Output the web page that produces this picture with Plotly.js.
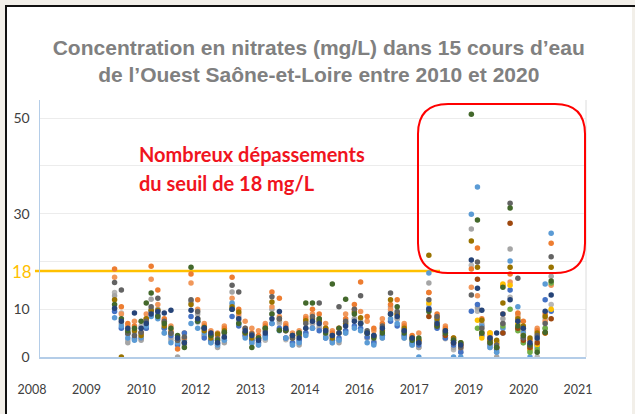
<!DOCTYPE html>
<html><head><meta charset="utf-8">
<script src="https://cdn.plot.ly/plotly-3.0.1.min.js"></script>
<style>
html,body{margin:0;padding:0;background:#f2efe9;width:635px;height:414px;overflow:hidden;}
#panel{position:absolute;left:5px;top:5px;width:627px;height:409px;background:#fff;border-left:2px solid #111;border-top:2px solid #111;box-sizing:border-box;}
#topline{position:absolute;left:5px;top:5px;width:630px;height:2px;background:#111;}
#chart{position:absolute;left:0;top:0;width:635px;height:414px;}
</style></head><body>
<div id="panel"></div><div id="topline"></div><div id="chart"></div>
<script>
// ---- DATA ----
const sampleDates = [
 '2009-12-15','2010-02-15','2010-04-15','2010-06-15','2010-08-15','2010-10-01','2010-11-15','2011-01-15',
 '2011-03-15','2011-05-15','2011-07-15','2011-09-15','2011-11-15','2012-01-15','2012-03-15','2012-05-15',
 '2012-07-15','2012-09-15','2012-11-25','2013-01-25','2013-03-25','2013-05-25','2013-07-25','2013-09-25',
 '2013-11-25','2014-02-01','2014-04-01','2014-06-01','2014-08-01','2014-10-01','2014-12-01','2015-02-01',
 '2015-04-01','2015-06-01','2015-08-01','2015-10-01','2015-12-20','2016-02-15','2016-04-15','2016-06-15',
 '2016-09-01','2016-11-15','2017-01-15','2017-03-20','2017-06-01','2017-08-01','2017-11-01','2018-01-15',
 '2018-04-01','2018-06-15','2018-08-20','2018-11-25','2019-01-20','2019-03-01','2019-05-15','2019-07-15',
 '2019-09-10','2019-11-15','2020-01-25','2020-03-15','2020-05-15','2020-07-20','2020-10-01','2020-11-25'];

const riverA = [18.4,10.5,7,6.5,5,8,19,14, 8,5.5,1.7,4,17.4,12,6.5,5, 4.5,6,16.7,10,6,5,4.5,6.5, 13.6,12.3,6.5,4.5,5,8,10,9,
 6,5,6,8,11,15.7,8.5,6, 7,11,12,6.5,4.5,3.5,13.5,9, 6,4,2,18.4,22.8,8,5,3, 15,17.4,9.2,7.5,3.5,5.5,9,23.8];
const riverB = [8.2,6.5,4,3.5,4,6.5,8.5,8, 5,3,3,3.5,7,6,5,3, 2.5,3.5,11.3,7,4,3,2.5,4, 7,5.5,4,2.5,3,4.5,6,7.6,
 4,3,3.5,5,6,5.5,3,2.5, 4,8,7,4,2.5,0,17.6,7.5, 4.5,0,0,29.9,35.6,6.5,2,1, 6,20.1,10.5,5,0,2,15.3,25.9];
const riverC = [10.2,7.5,6,9.2,6,7,9,9.5, 9.2,9.8,4,3,9.8,8,6,5, 3,4.2,10,8,5.5,4.5,3.5,5, 8,9.5,6,4.5,4,6,7.5,7,
 5.5,4.5,5,6.5,7.5,7,5,4.5, 6,9,8.5,5.5,4,3,10,7, 5.5,3,2.5,20.3,14.4,9.8,4,5, 9,12,7.5,6,3,4,9.6,13];
const riverD = [11,8,5.5,6,7.5,11.3,13.4,8.5, 7,6,4.5,2,18.8,7.5,6.2,4.5, 3.5,5.2,10,7,5.2,2,4,6, 9,5.6,5.6,4.5,5,11.3,11.3,8,
 5,15.3,6,12.1,9,7,5,4, 5,9,10.5,5,3.5,4,9.5,6.5, 5,3.5,3,50.8,28.7,5,3,2, 14.6,31.2,6.5,4.5,2.5,1,5.2,15.9];
const riverE = [12.8,7,3,4,3.5,6,12.1,10, 6,4,0,2.5,11.5,9,4.5,3.2, 2,3,13.6,8.5,4.5,3.5,3,4.2, 10,7.5,4,3,2.5,5,7,6,
 4.5,3.5,3,5,8,7.5,4,3.3, 4,10.5,8,4,2.5,2,15.5,7.5, 4,2,1.5,26.8,10.3,7,3.5,0, 8,22.6,9,5.5,2,3.5,6,16.9];
const riverF = [15.6,14,5,4.5,5.2,7.5,10.5,12.3, 7.5,5,3.5,4.2,12,9.5,6,4.5, 3.8,5,15,13.6,6,4.8,4,5.5, 12.6,8,5.5,4,5,7,8.5,11.3,
 5.5,4.5,10.5,7.5,10,12.8,5.5,4.5, 6.5,13.4,9.5,5.5,3.8,3,12,8.5, 5,3.5,2,13,19.9,6,4,2.5, 7,32.2,16.5,4,2.5,4.5,7,21];
const riverG = [12,0,5,5.5,4.5,8,9.8,9.8, 6.5,5,3.5,3,11,8,5.5,4, 4.8,5.5,10.5,9.4,5,4,3.8,6, 11.5,8,5.5,4,4.5,7.6,8,7.5,
 6,4,5,7,9.4,8.2,5,4.3, 5.5,12,9,6,4,3.5,21.3,8, 5.5,4,3,24.3,18.8,7.7,3.5,3.5, 11.3,18.8,8,6.5,4,5,8.5,18.8];
const riverH = [null,null,null,null,null,null,null,null, null,null,null,null,null,null,null,null, null,null,null,null,null,null,null,null,
 null,null,null,null,null,null,null,null, null,null,null,null,null,null,null,null, null,null,null,null,null,null,8.5,6.5,
 4.5,3,2.5,null,16.3,5,3,2, 5,28,6,3.5,2,3,5,8];
const riverI = [null,null,null,null,null,null,null,null, null,null,null,null,null,null,null,null, null,null,null,null,null,null,null,null,
 null,null,null,null,null,null,null,null, null,null,null,null,null,null,null,null, null,null,null,null,null,null,11.3,7,
 null,null,null,null,7.7,4,5,3, 15.3,15,7,4.5,1.5,2.5,5,10];
const riverJ = [null,null,null,null,null,null,null,null, null,null,null,null,null,null,null,null, null,null,null,null,null,null,null,null,
 null,null,null,null,null,null,null,null, null,null,null,null,null,null,null,null, null,null,null,null,null,null,null,null,
 null,null,null,null,6,null,null,null, 6.5,10,5.5,3,1,1.5,6,15.5];
const riverK = [9.5,6,4.8,3.8,5,6,9.5,8.7, 6,4.5,2.5,5,8.5,7.5,4,3.5, 2.8,4,8.5,6.5,4.5,3.5,3,4.5, 7,6,4,3,3.5,5,6,5.5,
 4,3.5,4,5.5,6.5,6,4.2,3, 4.5,7.5,6.5,4.5,3,2.5,10.2,6, 4,2.5,1,9.6,11,4.5,2.5,1.5, 5,14,6,4,1.5,2.5,12,9.6];
const riverL = [16.7,9,6.5,7.5,4,9,16.3,11, 7.5,6.5,4,5,15.5,10,7,5.5, 5,6.5,12.3,9,7.5,6,5.5,7, 10.5,8.5,7,5,5.5,8.5,9,8,
 7,5.5,6,9,10,9.5,7.5,5.5, 8,10,9,7,4,5,13.5,8.5, 6.5,3,2.5,14.6,12.8,6.5,4.5,2, 9,15.7,8.5,5,2.5,6,7.5,15];
const riverM = [13.5,9.2,3.5,5,6.5,7,10,9, 5,3.5,2.7,3.8,11.8,7.3,4.5,3, 2.4,3.5,11,7.6,5,2.8,2.5,3.5, 9,7,3.6,2.5,3,6,7,6.5,
 4.2,3,3.5,5.5,8,7,4,2.8, 4.5,9.5,8,4.5,2.8,2,11,7.2, 3.8,1.5,1,19.2,9.6,5.5,2,1, 7,12.5,7.5,3,1.8,0,8,11];

const seriesValues = [riverM, riverE, riverL, riverK, riverB, riverA, riverI, riverJ, riverG, riverH, riverF, riverD, riverC];
const seriesNames = ['Cours d’eau M','Cours d’eau E','Cours d’eau L','Cours d’eau K','Cours d’eau B','Cours d’eau A','Cours d’eau I',
 'Cours d’eau J','Cours d’eau G','Cours d’eau H','Cours d’eau F','Cours d’eau D','Cours d’eau C'];
const xTickLabels = ['2008','2009','2010','2012','2013','2014','2016','2017','2019','2020','2021'];
const yTickValues = [0,10,20,30,40,50];
const yTickLabels = ['0','10','','30','','50'];
const threshold = 18;

// ---- STYLE ----
const seriesColors = ['#b7b7b7','#a5a5a5','#f1975a','#4472c4','#5b9bd5','#ed7d31','#ffc000','#70ad47','#997300','#9e480e','#636363','#43682b','#264478'];

const DAY = 86400000;
const t0 = Date.UTC(2008,1,1), step = 500*DAY;
const iso = ms => new Date(ms).toISOString().slice(0,10);
const xTickVals = xTickLabels.map((_,k)=>iso(t0+k*step));
const xRange = [iso(t0), iso(t0+(xTickLabels.length-1)*step)];

const traces = seriesValues.map((vals,i)=>({
  type:'scatter', mode:'markers', name:seriesNames[i],
  x: sampleDates, y: vals,
  marker:{size:5.5, color:seriesColors[i], line:{width:0}},
  showlegend:false, hoverinfo:'x+y'
}));

// box geometry in paper coords
const bx0=0.6923, bx1=0.9982, by0=0.3268, by1=0.9844, rx=0.055, ry=0.117;
const boxPath = `M ${bx0+rx},${by1} L ${bx1-rx},${by1} Q ${bx1},${by1} ${bx1},${by1-ry} L ${bx1},${by0+ry} Q ${bx1},${by0} ${bx1-rx},${by0} `+
  `L ${bx0+rx},${by0} Q ${bx0},${by0} ${bx0},${by0+ry} L ${bx0},${by1-ry} Q ${bx0},${by1} ${bx0+rx},${by1} Z`;

const layout = {
  width:635, height:414,
  paper_bgcolor:'rgba(0,0,0,0)', plot_bgcolor:'rgba(0,0,0,0)',
  margin:{l:40, r:49, t:100, b:57},
  title:{text:'Concentration en nitrates (mg/L) dans 15 cours d’eau<br>de l’Ouest Saône-et-Loire entre 2010 et 2020',
    font:{family:'Liberation Sans, Arial, sans-serif', size:21, color:'#808080', weight:'bold'},
    xref:'container', x:0.502, xanchor:'center', yref:'container', y:0.868, yanchor:'middle'},
  xaxis:{type:'date', range:xRange, tickmode:'array', tickvals:xTickVals, ticktext:xTickLabels,
    showgrid:false, zeroline:false, showline:true, linecolor:'#b4cde8', linewidth:1.5, ticks:'',
    ticklabelshift:-8, ticklabelstandoff:20,
    tickfont:{family:'Lato, sans-serif', size:12.5, color:'#404040'}},
  yaxis:{range:[0,53.8], tickmode:'array', tickvals:yTickValues, ticktext:yTickLabels,
    showgrid:true, gridcolor:'#ececec', gridwidth:1, zeroline:false, showline:true, linecolor:'#b4cde8', linewidth:1.5, ticks:'',
    ticklabelstandoff:6,
    tickfont:{family:'Lato, sans-serif', size:14, color:'#404040'}},
  shapes:[
    {type:'line', xref:'paper', yref:'paper', x0:1, x1:1, y0:0, y1:1, line:{color:'#dcdcdc', width:1}},
    {type:'line', xref:'paper', yref:'y', x0:-0.0092, x1:0.7326, y0:threshold, y1:threshold, line:{color:'#ffc000', width:2.5}, layer:'below'},
    {type:'path', xref:'paper', yref:'paper', path:boxPath, line:{color:'#ff0000', width:2}}
  ],
  annotations:[
    {text:String(threshold), xref:'paper', yref:'y', x:-0.011, y:threshold, xanchor:'right', yanchor:'middle', showarrow:false,
      font:{family:'Lato, sans-serif', size:17, color:'#ffc000'}},
    {text:'Nombreux dépassements', xref:'paper', yref:'paper', x:0.1777, y:0.790, xanchor:'left', yanchor:'middle', showarrow:false,
      font:{family:'Lato, sans-serif', size:20, color:'#f0141e', weight:'bold'}},
    {text:'du seuil de 18 mg/L', xref:'paper', yref:'paper', x:0.1777, y:0.677, xanchor:'left', yanchor:'middle', showarrow:false,
      font:{family:'Lato, sans-serif', size:20, color:'#f0141e', weight:'bold'}}
  ]
};
Plotly.newPlot('chart', traces, layout, {displayModeBar:false, staticPlot:true});
</script>
</body></html>
